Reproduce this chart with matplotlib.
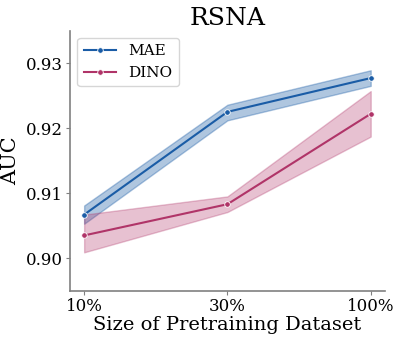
import matplotlib
matplotlib.use('Agg')
import matplotlib.pyplot as plt

plt.rcParams['font.family'] = 'DejaVu Serif'

sizes = ['10%', '30%', '100%']
mae = [0.9067, 0.9225, 0.9277]
mae_lo = [0.9053, 0.9212, 0.9265]
mae_hi = [0.9081, 0.9236, 0.9289]
dino = [0.9035, 0.9083, 0.9222]
dino_lo = [0.9009, 0.9071, 0.9187]
dino_hi = [0.9067, 0.9095, 0.9257]

blue = '#1a5ca6'
red = '#b03468'

fig, ax = plt.subplots(figsize=(3.99, 3.4), dpi=100)
x = range(len(sizes))

ax.fill_between(x, mae_lo, mae_hi, color=blue, alpha=0.35, linewidth=1)
ax.plot(x, mae, color=blue, marker='o', markersize=4, markeredgecolor='white',
        markeredgewidth=0.6, linewidth=1.5, label='MAE')
ax.fill_between(x, dino_lo, dino_hi, color=red, alpha=0.3, linewidth=1)
ax.plot(x, dino, color=red, marker='o', markersize=4, markeredgecolor='white',
        markeredgewidth=0.6, linewidth=1.5, label='DINO')

ax.set_xticks(list(x))
ax.set_xticklabels(sizes)
ax.set_xlim(-0.1, 2.1)
ax.set_ylim(0.895, 0.935)
ax.set_yticks([0.90, 0.91, 0.92, 0.93])
ax.set_yticklabels(['0.90', '0.91', '0.92', '0.93'])
ax.tick_params(labelsize=12, color='gray', length=3, pad=2)

for s in ['top', 'right']:
    ax.spines[s].set_visible(False)
for s in ['left', 'bottom']:
    ax.spines[s].set_color('gray')
    ax.spines[s].set_linewidth(1.2)

ax.set_title('RSNA', fontsize=18, pad=4)
ax.set_xlabel('Size of Pretraining Dataset', fontsize=14, labelpad=1)
ax.set_ylabel('AUC', fontsize=15, labelpad=4)
ax.legend(loc='upper left', fontsize=11, handlelength=2.15)

fig.subplots_adjust(left=0.175, right=0.965, top=0.91, bottom=0.145)
fig.savefig('out.png', dpi=100)
